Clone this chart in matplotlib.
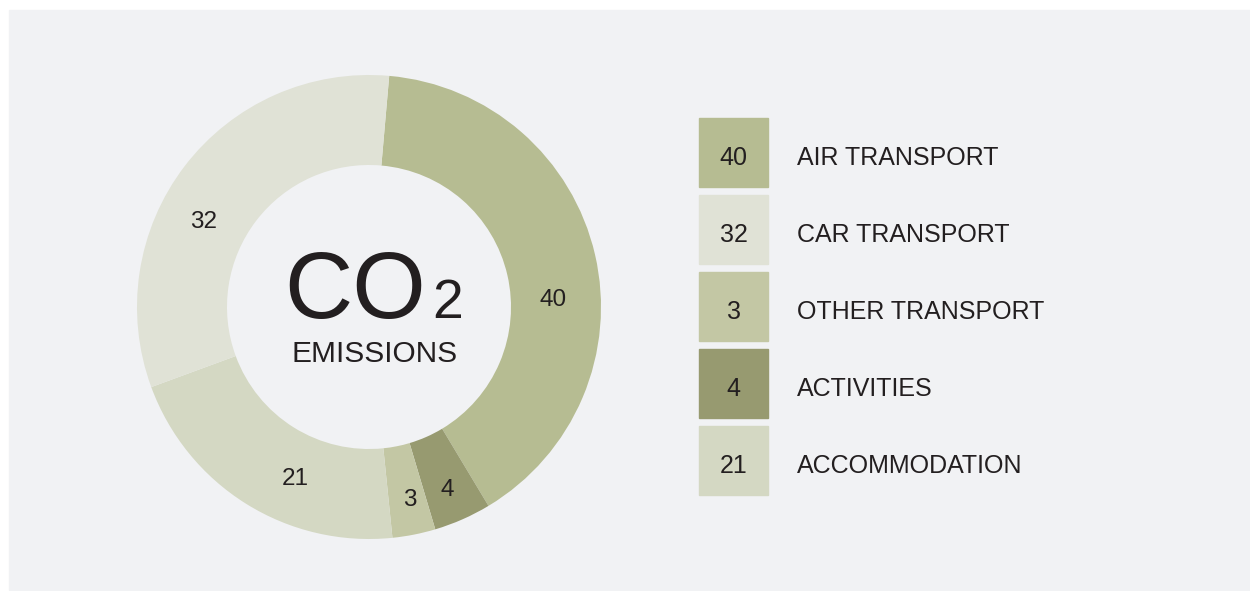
import numpy as np
import matplotlib
matplotlib.use("Agg")
import matplotlib.pyplot as plt
from matplotlib.patches import Rectangle

plt.rcParams["font.family"] = ["Liberation Sans", "DejaVu Sans"]

# data
categories = ["AIR TRANSPORT", "ACTIVITIES", "OTHER TRANSPORT", "ACCOMMODATION", "CAR TRANSPORT"]
values = [40, 4, 3, 21, 32]
colors = ["#B6BC92", "#979A70", "#C3C7A4", "#D4D8C3", "#E0E2D6"]
legend_order = ["AIR TRANSPORT", "CAR TRANSPORT", "OTHER TRANSPORT", "ACTIVITIES", "ACCOMMODATION"]

txt = "#231F20"
bg = "#F1F2F4"
W, H = 1250, 591

fig = plt.figure(figsize=(W / 100, H / 100), dpi=100, facecolor="white")

# background panel
back = fig.add_axes([0, 0, 1, 1])
back.set_xlim(0, W); back.set_ylim(H, 0); back.axis("off")
back.add_patch(Rectangle((9, 10), W - 9, 580, color=bg))

# donut
cx, cy, R, r_in = 369, 307, 232, 142
ax = fig.add_axes([(cx - R) / W, (H - cy - R) / H, 2 * R / W, 2 * R / H])
ax.pie(values, colors=colors, startangle=85, counterclock=False, radius=1,
       wedgeprops=dict(width=(R - r_in) / R, edgecolor="none"))
ax.set_xlim(-1, 1); ax.set_ylim(-1, 1); ax.axis("off")

# text + legend layer on top, pixel coordinates
top = fig.add_axes([0, 0, 1, 1])
top.set_xlim(0, W); top.set_ylim(H, 0); top.axis("off")
top.patch.set_alpha(0)

# wedge labels (small angular nudges like the reference)
nudge = [10, 0.4, -1, -8.4, -9.4]
lab_r = [0.794, 0.846, 0.838, 0.795, 0.806]
start = 5.0
for v, dn, lr in zip(values, nudge, lab_r):
    th = np.deg2rad(start + v * 3.6 / 2 + dn)
    px, py = cx + lr * R * np.sin(th), cy - lr * R * np.cos(th)
    top.text(px, py + 9, str(v), ha="center", va="baseline", fontsize=17.5, color=txt)
    start += v * 3.6

# center text
top.text(284, 318, "CO", fontsize=68, color=txt, ha="left", va="baseline")
top.text(432, 318, "2", fontsize=40, color=txt, ha="left", va="baseline")
top.text(374.5, 362, "EMISSIONS", fontsize=21.5, color=txt, ha="center", va="baseline")

# legend
for i, name in enumerate(legend_order):
    k = categories.index(name)
    y0 = 118 + 77 * i
    top.add_patch(Rectangle((699, y0), 69, 69, color=colors[k]))
    top.text(733.5, y0 + 47, str(values[k]), ha="center", va="baseline",
             fontsize=18, color=txt)
    top.text(797, y0 + 47, name, ha="left", va="baseline", fontsize=18, color=txt)

fig.savefig("out.png", dpi=100, facecolor="white")
